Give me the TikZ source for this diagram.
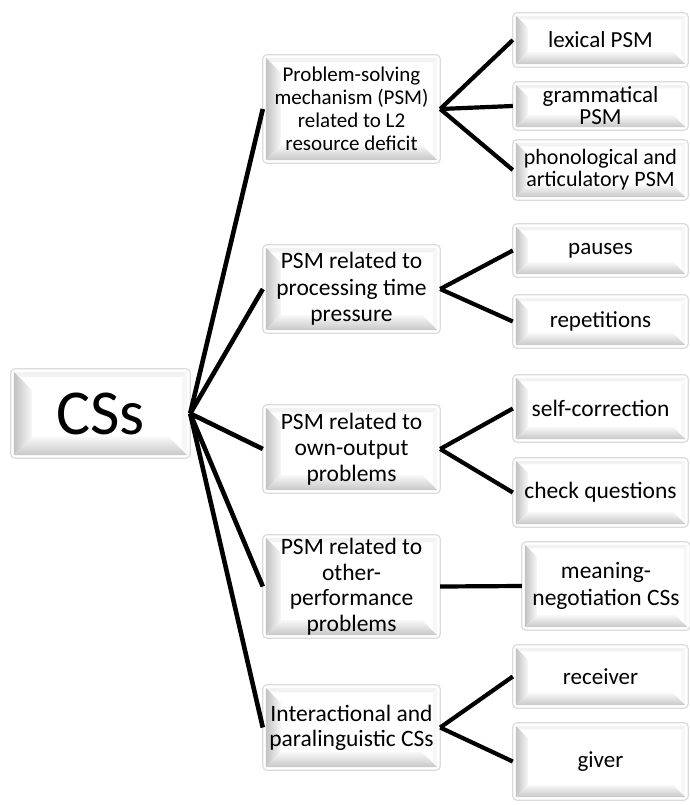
\documentclass[tikz,border=0pt]{standalone}
\usepackage{fontspec}
\setmainfont{Carlito}
\usetikzlibrary{calc,backgrounds}

\tikzset{
  boxtext/.style={inner sep=0pt, align=center, text=black},
  boxframe/.style={draw=black!14, line width=1.2pt, fill=white, rounded corners=4pt},
  leftbevel/.style={left color=black!24, right color=black!3},
  bottombevel/.style={top color=black!3, bottom color=black!22},
  topbevel/.style={fill=black!5},
  rightbevel/.style={fill=black!3},
  conn/.style={line width=4.6pt, black},
  subconn/.style={line width=4.2pt, black},
}

% \bevelbox{name}{cx}{cy}{width}{height}{bevel depth}{font size}{line skip}{text}
\newcommand\bevelbox[9]{%
  \node[boxtext, minimum width=#4pt, minimum height=#5pt,
        font=\fontsize{#7}{#8}\selectfont] (#1) at (#2,#3) {#9};
  \begin{pgfonlayer}{background}
    \path[boxframe] (#1.south west) rectangle (#1.north east);
    \path[topbevel] ($(#1.north west)+(3,3)$) -- ($(#1.north east)+(-3,3)$)
      -- ($(#1.north east)+(-3-#6*0.3,3+#6*0.3)$) -- ($(#1.north west)+(3+#6*0.3,3+#6*0.3)$) -- cycle;
    \path[rightbevel] ($(#1.north east)+(-3,3)$) -- ($(#1.south east)+(-3,-3)$)
      -- ($(#1.south east)+(-3-#6*0.3,-3-#6*0.3)$) -- ($(#1.north east)+(-3-#6*0.3,3+#6*0.3)$) -- cycle;
    \path[leftbevel] ($(#1.north west)+(3,3)$) -- ($(#1.south west)+(3,-3)$)
      -- ($(#1.south west)+(3+#6,-3-#6)$) -- ($(#1.north west)+(3+#6,3+#6)$) -- cycle;
    \path[bottombevel] ($(#1.south west)+(3,-3)$) -- ($(#1.south east)+(-3,-3)$)
      -- ($(#1.south east)+(-3-#6,-3-#6)$) -- ($(#1.south west)+(3+#6,-3-#6)$) -- cycle;
  \end{pgfonlayer}%
}

\begin{document}
\begin{tikzpicture}[x=1pt, y=-1pt]
  \useasboundingbox (0,0) rectangle (690,805);

  % root
  \bevelbox{css}{100.5}{413.5}{179}{89}{18}{64}{70}{CSs}

  % second level
  \bevelbox{b1}{351.5}{109}{177}{108}{15}{21}{23}{Problem-solving\\mechanism (PSM)\\related to L2\\resource deficit}
  \bevelbox{b2}{351.5}{289}{177}{88}{15}{23.5}{26.5}{PSM related to\\processing time\\pressure}
  \bevelbox{b3}{351.5}{449}{177}{88}{15}{23.5}{26}{PSM related to\\own-output\\problems}
  \bevelbox{b4}{351.5}{586.5}{177}{103}{15}{23.5}{25.5}{PSM related to\\other-\\performance\\problems}
  \bevelbox{b5}{351.5}{727.5}{177}{85}{15}{23.5}{25}{Interactional and\\paralinguistic CSs}

  % third level
  \bevelbox{l1}{600.5}{40}{175}{54}{12}{23}{23}{lexical PSM}
  \bevelbox{l2}{600.5}{106}{175}{48}{12}{23}{22}{grammatical\\PSM}
  \bevelbox{l3}{600.5}{170}{175}{60}{12}{22}{22}{phonological and\\articulatory PSM}
  \bevelbox{l4}{600.5}{250.5}{175}{53}{12}{23}{23}{pauses}
  \bevelbox{l5}{600.5}{321.5}{175}{53}{12}{23}{23}{repetitions}
  \bevelbox{l6}{600.5}{408.5}{175}{67}{12}{23.5}{23}{self-correction}
  \bevelbox{l7}{600.5}{492.5}{175}{69}{12}{23.5}{23}{check questions}
  \bevelbox{l8}{606}{586}{168}{88}{12}{23.5}{27}{meaning-\\negotiation CSs}
  \bevelbox{l9}{600.5}{676.5}{175}{63}{12}{23}{23}{receiver}
  \bevelbox{l10}{600.5}{761.5}{175}{77}{12}{23}{23}{giver}

  % connectors from the root
  \foreach \t in {b1,b2,b3,b4,b5}
    \draw[conn] (css.east) -- (\t.west);

  % connectors to the third level
  \foreach \t in {l1,l2,l3}
    \draw[subconn] (b1.east) -- (\t.west);
  \foreach \t in {l4,l5}
    \draw[subconn] (b2.east) -- (\t.west);
  \foreach \t in {l6,l7}
    \draw[subconn] (b3.east) -- (\t.west);
  \draw[subconn] (b4.east) -- (l8.west);
  \foreach \t in {l9,l10}
    \draw[subconn] (b5.east) -- (\t.west);
\end{tikzpicture}
\end{document}
